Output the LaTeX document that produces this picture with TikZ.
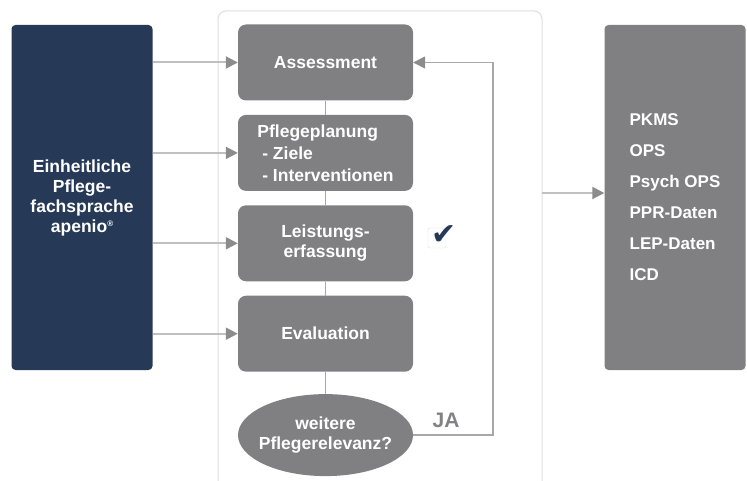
\documentclass[tikz,border=0pt]{standalone}
\usepackage{fontspec}
\setmainfont{Liberation Sans}
\newfontfamily\hakenfont{DejaVu Sans}
\usetikzlibrary{shapes,arrows.meta,calc,positioning}
\definecolor{navy}{RGB}{38,58,87}
\definecolor{boxgrau}{RGB}{128,128,130}
\definecolor{liniengrau}{RGB}{192,192,192}
\definecolor{spitzengrau}{RGB}{140,140,140}
\definecolor{verbgrau}{RGB}{168,168,168}
\definecolor{rahmengrau}{RGB}{222,222,222}
\definecolor{jagrau}{RGB}{130,130,132}
\tikzset{
    x=1pt, y=-1pt, semithick, node distance=14pt,
    prozess/.style={rectangle, rounded corners=8pt, fill=boxgrau, text=white, inner sep=0pt,
        minimum width=175pt, minimum height=76pt, align=center,
        font=\bfseries\fontsize{17.5}{20}\selectfont},
    saeule/.style={rectangle, rounded corners=4pt, text=white, inner sep=0pt,
        minimum width=141pt, minimum height=345pt, align=center,
        font=\bfseries\fontsize{17.5}{20}\selectfont},
    frage/.style={ellipse, fill=boxgrau, text=white, inner xsep=-14pt, inner ysep=0pt,
        minimum width=175pt, minimum height=82pt, align=center,
        font=\bfseries\fontsize{17.5}{20}\selectfont},
    zulauf/.style={draw=liniengrau, line width=2pt,
        -{Triangle[length=12pt, width=12pt, color=spitzengrau]}},
    verbinder/.style={draw=verbgrau, line width=1.5pt}
}

\begin{document}
\begin{tikzpicture}
    \useasboundingbox (0,0) rectangle (747,481);
    % Rahmen
    \draw[rahmengrau, line width=1pt, rounded corners=8pt] (218,481) -- (218,11) -- (542,11) -- (542,481);
    \coordinate (rahmen) at (542,193);

    \node[saeule, fill=navy] (fach) at (82,197.5)
        {Einheitliche\\Pflege-\\fachsprache\\apenio\raisebox{6pt}{\fontsize{8}{8}\selectfont®}};
    \node[saeule, fill=boxgrau, align=left, font=\bfseries\fontsize{17}{31}\selectfont] (daten) at (675,197.5)
        {PKMS\\OPS\\Psych OPS\\PPR-Daten\\LEP-Daten\\ICD};

    \node[prozess] (ass) at (325.5,62.5) {Assessment};
    \node[prozess, align=left, font=\bfseries\fontsize{17.5}{22}\selectfont] (plan) [below =of ass]
        {Pflegeplanung\\\ - Ziele\\\ - Interventionen};
    \node[prozess] (leist) [below =of plan] {Leistungs-\\erfassung};
    \node[prozess] (eval) [below =of leist] {Evaluation};
    \node[frage] (rel) [below =22pt of eval] {weitere\\Pflegerelevanz?};

    \node[draw=rahmengrau, fill=white, rounded corners=2pt, minimum width=18pt, minimum height=20pt] (kasten) at (437,238) {};
    \node[text=navy, font=\hakenfont\fontsize{30}{30}\selectfont, inner sep=0pt] (haken) at (444,235) {✔};
    \node[text=jagrau, font=\bfseries\fontsize{21}{21}\selectfont] (ja) at (446,420) {JA};

    \path[verbinder] (ass.south) -- (plan.north);
    \path[verbinder] (plan.south) -- (leist.north);
    \path[verbinder] (leist.south) -- (eval.north);
    \path[verbinder] (eval.south) -- (rel.north);
    \draw[verbinder, -{Triangle[length=12pt, width=12pt, color=spitzengrau]}]
        (rel.east) -- ++(80,0) |- (ass.east);

    \path[zulauf] (fach.east |- ass) -- (ass.west);
    \path[zulauf] (fach.east |- plan) -- (plan.west);
    \path[zulauf] (fach.east |- leist) -- (leist.west);
    \path[zulauf] (fach.east |- eval) -- (eval.west);
    \path[zulauf] (rahmen) -- (daten.west |- rahmen);
\end{tikzpicture}
\end{document}
